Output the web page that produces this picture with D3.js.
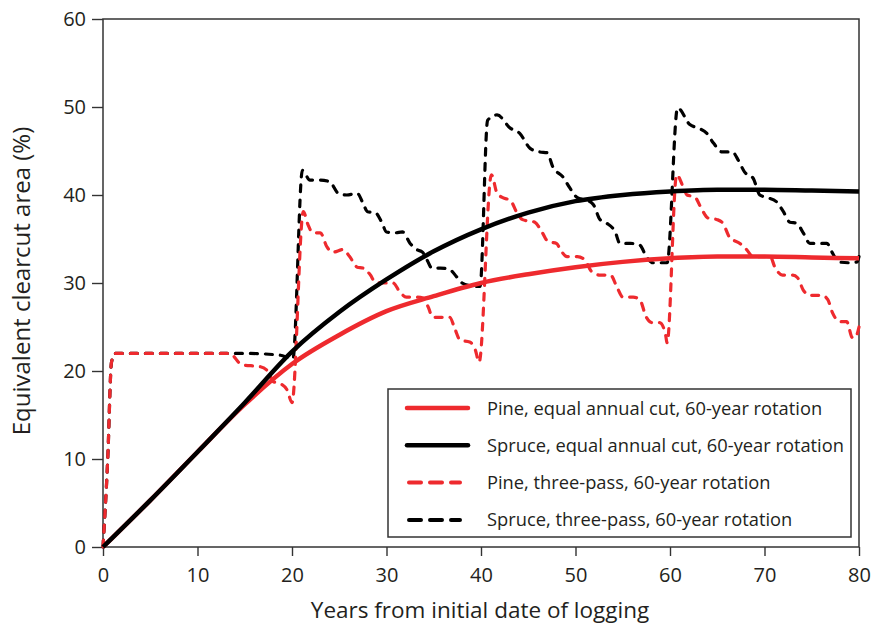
<!DOCTYPE html>
<html>
<head>
<meta charset="utf-8">
<script src="https://cdn.jsdelivr.net/npm/d3@7"></script>
<style>
	body{margin:0;background:#fff;}
	svg text{font-family:"Open Sans",sans-serif;fill:#231f20;}
</style>
</head>
<body>
<div id="plot"></div>
<script>
//Data
var years = [0,5,10,15,20,25,30,35,40,45,50,55,60,65,70,75,80];
var pineEqual = [0,5.3,10.8,16.2,20.8,24.1,26.8,28.5,30.0,31.0,31.8,32.4,32.8,33.0,33.0,32.9,32.8];
var spruceEqual = [0,5.3,10.8,16.4,22.2,26.7,30.4,33.6,36.1,38.0,39.3,40.0,40.4,40.6,40.6,40.5,40.4];

var pineThreePass = [[0,0],[0.5,10],[0.9,21],[1.3,22],[5,22],[10,22],[13.4,22],[14.7,20.7],[16.6,20.5],[17.5,19.9],[18,18.8],[18.7,18.6],[19.5,17.8],[20,16.4],[21.2,38.1],[21.7,36.6],[22.2,35.7],[23,35.7],[23.7,34.1],[24.3,33.5],[25.4,33.8],[26.1,33.0],[26.9,31.8],[27.5,31.7],[28.3,30.9],[28.8,30.1],[29.6,30.0],[30.7,30.0],[31.4,29.0],[32.1,28.4],[33.2,28.4],[33.9,28.3],[34.4,27.3],[34.9,26.1],[36,26.1],[36.7,26.1],[37.2,24.9],[37.8,23.5],[38.8,23.3],[39.4,22.4],[39.8,21.0],[41.1,42.3],[41.7,40.2],[42.3,39.7],[43.1,39.4],[43.8,38.0],[44.4,37.2],[45.7,36.9],[46.5,35.7],[47.1,34.7],[48,34.5],[48.4,33.8],[49.1,33.0],[50.2,33.0],[51,32.6],[51.7,31.3],[52.6,30.9],[53.7,30.9],[54.4,29.5],[55,28.4],[56.1,28.4],[56.8,28.1],[57.5,26.1],[58.1,25.5],[58.9,25.5],[59.5,24.3],[59.7,23.2],[60.7,42.3],[61.4,40.9],[61.8,40.0],[62.6,39.8],[63.4,38.3],[64,37.4],[65,37.2],[65.6,36.8],[66.3,35.2],[67.4,34.5],[68.1,33.8],[68.8,33.0],[70.6,33.0],[71.1,31.8],[71.9,30.9],[73,30.9],[73.5,30.6],[74.1,29.2],[74.8,28.6],[76.1,28.6],[76.7,28.1],[77.2,26.6],[78,25.6],[78.7,25.6],[79.3,23.8],[79.6,23.8],[80,25]];

var spruceThreePass = [[0,0],[0.5,10],[0.9,21],[1.3,22],[5,22],[10,22],[15,22],[18.7,21.8],[20.1,21.4],[21.1,42.8],[21.9,41.7],[23,41.7],[24,41.5],[24.9,40.2],[25.8,40.0],[26.9,40.2],[27.5,39.1],[28,38.1],[28.8,38.0],[29.5,36.9],[30,35.8],[30.9,35.7],[31.7,35.8],[32.5,34.5],[33.2,33.8],[33.8,33.5],[34.3,32.6],[34.8,31.7],[35.7,31.7],[36.7,31.5],[37.5,30.6],[38,30.0],[38.8,29.7],[39.9,29.6],[40.7,48.5],[41.7,49.1],[43.1,47.6],[44.1,47.0],[45.2,45.3],[46.2,44.9],[47,44.8],[47.6,43.2],[48.7,42.0],[49.4,40.8],[50.2,39.7],[51.2,39.4],[51.9,38.9],[52.6,37.2],[53.3,36.8],[54.2,35.8],[54.7,34.5],[55.8,34.5],[56.8,34.3],[57.5,33.0],[58.2,32.3],[59.7,32.3],[60.8,49.9],[62.1,48.0],[63,47.6],[63.9,47.0],[64.6,45.9],[65.5,44.9],[66.6,44.9],[67.2,44.0],[67.9,42.6],[68.8,41.9],[69.5,40.0],[70.3,39.7],[71.3,39.2],[72,38.1],[72.7,36.9],[73.4,36.8],[74.1,35.7],[74.8,34.5],[75.9,34.5],[76.6,34.5],[77.2,33.4],[77.8,32.4],[79,32.3],[79.8,32.4],[80,33]];

var xTicks = [0,10,20,30,40,50,60,70,80];
var yTicks = [0,10,20,30,40,50,60];
var legendLabels = ['Pine, equal annual cut, 60-year rotation','Spruce, equal annual cut, 60-year rotation','Pine, three-pass, 60-year rotation','Spruce, three-pass, 60-year rotation'];

var RED = '#ee2a2e', BLACK = '#000';

var W = 871, H = 627,
	m = {t:19,r:12,b:80,l:103},
	w = W - m.l - m.r,
	h = H - m.t - m.b;

var svg = d3.select('#plot').append('svg')
	.attr('width',W).attr('height',H);
var plot = svg.append('g')
	.attr('transform','translate('+m.l+','+m.t+')');

var x = d3.scaleLinear().domain([0,80]).range([0,w]);
var y = d3.scaleLinear().domain([0,60]).range([h,0]);

//Axes
var xAxis = plot.append('g').attr('transform','translate(0,'+h+')')
	.call(d3.axisBottom(x).tickValues(xTicks).tickSize(9).tickPadding(12));
var yAxis = plot.append('g')
	.call(d3.axisLeft(y).tickValues(yTicks).tickSize(11).tickPadding(6));
[xAxis,yAxis].forEach(function(a){
	a.select('.domain').remove();
	a.selectAll('line').attr('stroke','#333').attr('stroke-width',1.4);
	a.selectAll('text').style('font-size','20px').attr('fill','#231f20');
});

//frame
plot.append('rect').attr('x',0).attr('y',0).attr('width',w).attr('height',h)
	.attr('fill','none').attr('stroke','#333').attr('stroke-width',1.5);

//Lines
var line = d3.line()
	.x(function(d){return x(d[0])})
	.y(function(d){return y(d[1])})
	.curve(d3.curveMonotoneX);

function pairs(vals){ return years.map(function(yr,i){return [yr,vals[i]]}); }

var series = [
	{data:spruceThreePass,color:BLACK,dash:true},
	{data:pineThreePass,color:RED,dash:true},
	{data:pairs(pineEqual),color:RED,dash:false},
	{data:pairs(spruceEqual),color:BLACK,dash:false}
];

series.forEach(function(s){
	plot.append('path').datum(s.data)
		.attr('d',line)
		.attr('fill','none')
		.attr('stroke',s.color)
		.attr('stroke-width',s.dash?3.2:4.5)
		.attr('stroke-linecap',s.dash?'round':'butt')
		.attr('stroke-dasharray',s.dash?'7,8':null);
});

//Legend
var lg = svg.append('g').attr('transform','translate(388,389)');
lg.append('rect').attr('width',463).attr('height',148)
	.attr('fill','#fff').attr('stroke','#333').attr('stroke-width',1.5);
var legendStyle = [
	{color:RED,dash:false},{color:BLACK,dash:false},
	{color:RED,dash:true},{color:BLACK,dash:true}
];
legendLabels.forEach(function(lab,i){
	var ly = 19 + i*37.3;
	lg.append('line')
		.attr('x1',legendStyle[i].dash?21:19).attr('x2',legendStyle[i].dash?72:80)
		.attr('y1',ly).attr('y2',ly)
		.attr('stroke',legendStyle[i].color)
		.attr('stroke-width',legendStyle[i].dash?4:4.5)
		.attr('stroke-linecap','round')
		.attr('stroke-dasharray',legendStyle[i].dash?'12,9':null);
	lg.append('text').attr('x',99).attr('y',ly+6.5)
		.style('font-size','18.3px').text(lab);
});

//Axis titles
svg.append('text').attr('x',m.l+w/2-1).attr('y',618)
	.attr('text-anchor','middle').style('font-size','22.5px')
	.text('Years from initial date of logging');
svg.append('text')
	.attr('transform','translate(30,'+(m.t+h/2-2)+') rotate(-90)')
	.attr('text-anchor','middle').style('font-size','24px')
	.text('Equivalent clearcut area (%)');
</script>
</body>
</html>
